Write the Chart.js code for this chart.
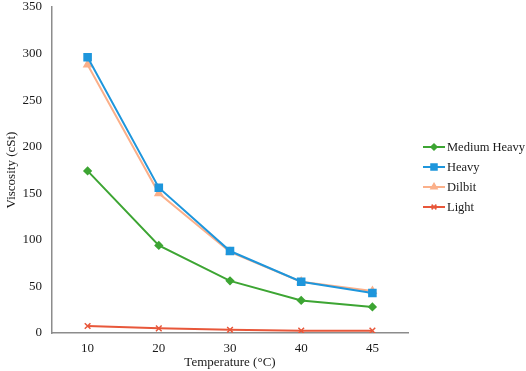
<!DOCTYPE html>
<html>
<head>
<meta charset="utf-8">
<script src="https://cdn.jsdelivr.net/npm/chart.js@4.4.1/dist/chart.umd.min.js"></script>
<style>
  html, body { margin: 0; padding: 0; background: #fff; }
  #wrap { width: 526px; height: 371px; }
</style>
</head>
<body>
<div id="wrap"><canvas id="viscosityChart" width="526" height="371"></canvas></div>
<script>
  // Temperature categories (x axis)
  const temperatures = ['10', '20', '30', '40', '45'];

  // Viscosity (cSt) per crude type
  const mediumHeavy = [174, 94, 56, 35, 28];
  const heavy = [296, 156, 88, 55, 43];
  const dilbit = [288, 150, 87, 55, 45];
  const light = [7.5, 5, 3.5, 2.5, 2.5];

  const yTicks = [0, 50, 100, 150, 200, 250, 300, 350];

  (function () {
    'use strict';

    const fontFamily = "'Liberation Serif', 'Times New Roman', serif";
    const textColor = '#1a1a1a';
    const axisColor = '#8c8c8c';

    Chart.defaults.font.family = fontFamily;
    Chart.defaults.font.size = 13;
    Chart.defaults.color = textColor;

    const series = [
      { label: 'Medium Heavy', data: mediumHeavy, color: '#3da533', style: 'rectRot', radius: 3.6 },
      { label: 'Heavy', data: heavy, color: '#1e96dc', style: 'rect', radius: 5 },
      { label: 'Dilbit', data: dilbit, color: '#fbb08a', style: 'triangle', radius: 4.2 },
      { label: 'Light', data: light, color: '#e8573a', style: 'crossRot', radius: 4 },
    ];

    // Legend: short line with the marker in its middle, as in the source figure
    const lineLegend = {
      id: 'lineLegend',
      afterDraw: function (chart) {
        const ctx = chart.ctx;
        const x0 = 423;
        const x1 = 445;
        let y = 147;
        ctx.save();
        chart.data.datasets.forEach(function (ds) {
          ctx.strokeStyle = ds.borderColor;
          ctx.lineWidth = 2;
          ctx.beginPath();
          ctx.moveTo(x0, y);
          ctx.lineTo(x1, y);
          ctx.stroke();
          ctx.fillStyle = ds.pointBackgroundColor;
          ctx.strokeStyle = ds.pointBorderColor;
          ctx.lineWidth = 1.5;
          Chart.helpers.drawPoint(ctx, {
            pointStyle: ds.pointStyle,
            radius: ds.pointRadius * 0.85,
            rotation: 0,
            borderWidth: 1.5,
          }, (x0 + x1) / 2, y);
          ctx.fillStyle = textColor;
          ctx.font = '12.5px ' + fontFamily;
          ctx.textAlign = 'left';
          ctx.textBaseline = 'middle';
          ctx.fillText(ds.label, x1 + 2, y + 1);
          y += 20;
        });
        ctx.restore();
      },
    };

    new Chart(document.getElementById('viscosityChart'), {
      type: 'line',
      data: {
        labels: temperatures,
        datasets: series.map(function (s) {
          return {
            label: s.label,
            data: s.data,
            borderColor: s.color,
            backgroundColor: s.color,
            borderWidth: 2,
            tension: 0,
            pointStyle: s.style,
            pointRadius: s.radius,
            pointBackgroundColor: s.color,
            pointBorderColor: s.color,
            pointBorderWidth: 1.5,
          };
        }),
      },
      options: {
        responsive: false,
        animation: false,
        devicePixelRatio: 1,
        layout: { padding: { top: 7, right: 118, left: 0, bottom: 0 } },
        plugins: {
          legend: { display: false },
          tooltip: { enabled: false },
        },
        scales: {
          x: {
            offset: true,
            grid: { display: false, drawTicks: false },
            border: { display: true, color: axisColor, width: 1.5 },
            ticks: { padding: 8, color: textColor, font: { size: 13 } },
            title: {
              display: true,
              text: 'Temperature (\u00B0C)',
              color: textColor,
              font: { size: 13 },
              padding: { top: 0, bottom: 1 },
            },
            afterFit: function (scale) {
              scale.height = 38;
              scale.paddingLeft = 0;
              scale.paddingRight = 0;
            },
          },
          y: {
            min: 0,
            max: 350,
            afterBuildTicks: function (scale) {
              scale.ticks = yTicks.map(function (v) {
                return { value: v };
              });
            },
            grid: { display: false, drawTicks: false },
            border: { display: true, color: axisColor, width: 1.5 },
            ticks: { padding: 10, color: textColor, font: { size: 13 } },
            title: {
              display: true,
              text: 'Viscosity (cSt)',
              color: textColor,
              font: { size: 13 },
              padding: { top: 4, bottom: 0 },
            },
            afterFit: function (scale) {
              scale.width = 52;
              scale.paddingTop = 0;
              scale.paddingBottom = 0;
            },
          },
        },
      },
      plugins: [lineLegend],
    });
  })();
</script>
</body>
</html>
